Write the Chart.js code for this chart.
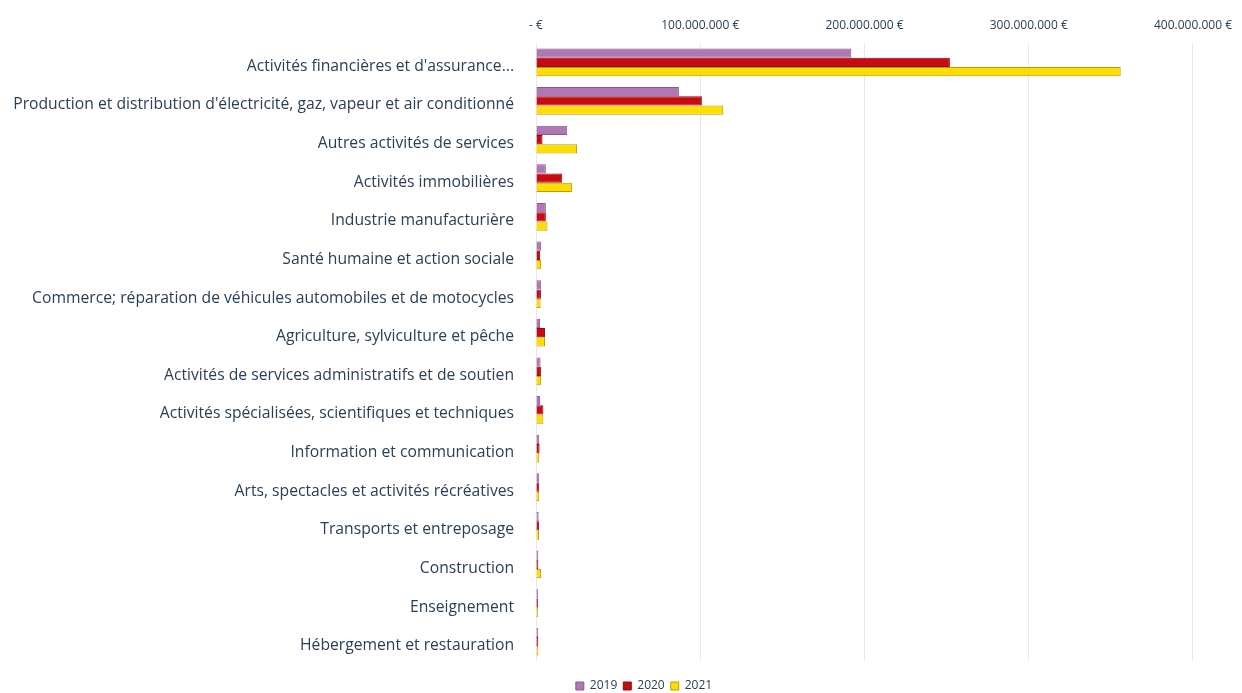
<!DOCTYPE html>
<html>
<head>
<meta charset="utf-8">
<script src="https://cdn.jsdelivr.net/npm/chart.js@4.4.1/dist/chart.umd.min.js"></script>
<style>
  html, body { margin: 0; padding: 0; background: #ffffff; }
  #wrap { width: 1242px; height: 693px; }
</style>
</head>
<body>
<div id="wrap"><canvas id="chart" width="1242" height="693"></canvas></div>
<script>
// secteurs, du plus grand au plus petit
const categories = [
    "Activités financières et d'assurance...",
    "Production et distribution d'électricité, gaz, vapeur et air conditionné",
    "Autres activités de services",
    "Activités immobilières",
    "Industrie manufacturière",
    "Santé humaine et action sociale",
    "Commerce; réparation de véhicules automobiles et de motocycles",
    "Agriculture, sylviculture et pêche",
    "Activités de services administratifs et de soutien",
    "Activités spécialisées, scientifiques et techniques",
    "Information et communication",
    "Arts, spectacles et activités récréatives",
    "Transports et entreposage",
    "Construction",
    "Enseignement",
    "Hébergement et restauration"
];

// montants en euros
const values2019 = [192e6, 87e6, 19e6, 6e6, 6e6, 3e6, 3e6, 2.5e6, 2.8e6, 2.5e6, 2e6, 2e6, 1.6e6, 1.4e6, 1.2e6, 1.4e6];
const values2020 = [252e6, 101e6, 4e6, 16e6, 6e6, 2.5e6, 3e6, 5.5e6, 3e6, 4.5e6, 2.2e6, 2e6, 1.8e6, 1.4e6, 1.2e6, 1.4e6];
const values2021 = [356e6, 114e6, 25e6, 22e6, 7e6, 3e6, 2.8e6, 5.5e6, 3e6, 4.5e6, 2e6, 2e6, 1.8e6, 3e6, 1.2e6, 1.4e6];

const seriesLabels = ['2019', '2020', '2021'];
const tickValues = [0, 100e6, 200e6, 300e6, 400e6];

const textColor = '#2a4056';
const fontFamily = '"Open Sans", sans-serif';

function formatEuro(v) {
    if (v === 0) return '- €';
    return String(Math.round(v)).replace(/\B(?=(\d{3})+(?!\d))/g, '.') + ' €';
}

// place la légende comme dans Excel (un peu plus bas, décalée à droite)
const legendShift = {
    id: 'legendShift',
    afterLayout(chart) {
        const l = chart.legend;
        const dy = 674 - l.top;
        l.top += dy;
        l.bottom += dy;
        l.left += 45;
        l.right += 45;
    }
};

const ctx = document.getElementById('chart');
new Chart(ctx, {
    type: 'bar',
    data: {
        labels: categories,
        datasets: [
            {
                label: seriesLabels[0],
                data: values2019,
                backgroundColor: '#b077b3',
                borderColor: '#875a8a',
                borderWidth: 1
            },
            {
                label: seriesLabels[1],
                data: values2020,
                backgroundColor: '#c80a12',
                borderColor: '#8e0a0e',
                borderWidth: 1
            },
            {
                label: seriesLabels[2],
                data: values2021,
                backgroundColor: '#ffdd00',
                borderColor: '#b89c00',
                borderWidth: 1
            }
        ]
    },
    plugins: [legendShift],
    options: {
        indexAxis: 'y',
        responsive: false,
        animation: false,
        devicePixelRatio: 1,
        layout: {
            padding: { left: 0, right: 44, top: 0, bottom: 4 }
        },
        datasets: {
            bar: {
                categoryPercentage: 0.72,
                barPercentage: 1.0
            }
        },
        scales: {
            x: {
                position: 'top',
                min: 0,
                max: 400e6,
                afterBuildTicks: function (scale) {
                    scale.ticks = tickValues.map(v => ({ value: v }));
                },
                afterFit: function (scale) {
                    scale.height = 43;
                },
                grid: {
                    color: '#ebe3ef',
                    lineWidth: 1,
                    drawTicks: false
                },
                border: { display: false },
                ticks: {
                    padding: 10,
                    color: textColor,
                    font: { family: fontFamily, size: 12 },
                    callback: function (v) { return formatEuro(v); }
                }
            },
            y: {
                afterFit: function (scale) {
                    scale.width = 536;
                },
                grid: { display: false, drawTicks: false },
                border: { display: false },
                ticks: {
                    padding: 22,
                    labelOffset: 4,
                    color: textColor,
                    autoSkip: false,
                    font: { family: fontFamily, size: 15.7 }
                }
            }
        },
        plugins: {
            legend: {
                position: 'bottom',
                labels: {
                    color: textColor,
                    boxWidth: 8,
                    boxHeight: 8,
                    padding: 6,
                    font: { family: fontFamily, size: 12 }
                }
            },
            tooltip: { enabled: false }
        }
    }
});
</script>
</body>
</html>
